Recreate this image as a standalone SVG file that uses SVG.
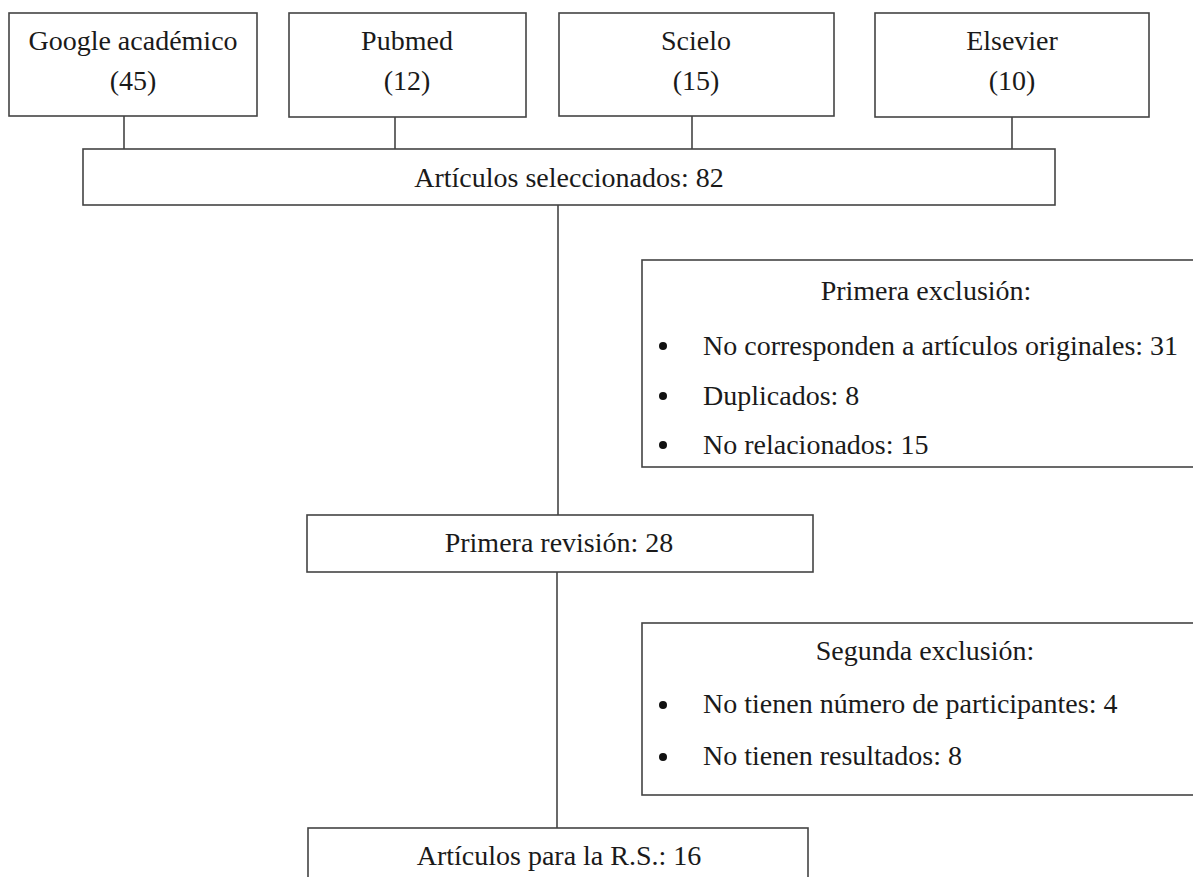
<svg xmlns="http://www.w3.org/2000/svg" width="1193" height="877" viewBox="0 0 1193 877">
<style>
.box{fill:#fff;stroke:#444;stroke-width:1.6}
.ln{stroke:#444;stroke-width:1.6;fill:none}
text{font-family:"Liberation Serif","Times New Roman",serif;font-size:28px;fill:#1a1a1a}
.c{text-anchor:middle}
.dot{fill:#111}
</style>
<rect width="1193" height="877" fill="#fff"/>
<g id="connectors">
<line class="ln" x1="124" y1="116" x2="124" y2="149"/>
<line class="ln" x1="395" y1="117" x2="395" y2="149"/>
<line class="ln" x1="692" y1="116" x2="692" y2="149"/>
<line class="ln" x1="1012" y1="117" x2="1012" y2="149"/>
<line class="ln" x1="558" y1="205" x2="558" y2="515"/>
<line class="ln" x1="557" y1="572" x2="557" y2="828"/>
</g>
<g id="google"><rect class="box" x="9" y="13" width="248" height="103"/><text class="c" x="133" y="50">Google académico</text><text class="c" x="133" y="90">(45)</text></g>
<g id="pubmed"><rect class="box" x="289" y="13" width="237" height="104"/><text class="c" x="407" y="50">Pubmed</text><text class="c" x="407" y="90">(12)</text></g>
<g id="scielo"><rect class="box" x="559" y="13" width="275" height="103"/><text class="c" x="696" y="50">Scielo</text><text class="c" x="696" y="90">(15)</text></g>
<g id="elsevier"><rect class="box" x="875" y="13" width="274" height="104"/><text class="c" x="1012" y="50">Elsevier</text><text class="c" x="1012" y="90">(10)</text></g>
<g id="seleccionados"><rect class="box" x="83" y="149" width="972" height="56"/><text class="c" x="569" y="187">Artículos seleccionados: 82</text></g>
<g id="primera-exclusion"><rect class="box" x="642" y="260" width="570" height="207"/>
<text class="c" x="926" y="300">Primera exclusión:</text>
<circle class="dot" cx="663" cy="346" r="4"/><text x="703" y="355">No corresponden a artículos originales: 31</text>
<circle class="dot" cx="663" cy="396" r="4"/><text x="703" y="405">Duplicados: 8</text>
<circle class="dot" cx="663" cy="445" r="4"/><text x="703" y="454">No relacionados: 15</text>
</g>
<g id="primera-revision"><rect class="box" x="307" y="515" width="506" height="57"/><text class="c" x="559" y="552">Primera revisión: 28</text></g>
<g id="segunda-exclusion"><rect class="box" x="642" y="623" width="570" height="172"/>
<text class="c" x="925" y="660">Segunda exclusión:</text>
<circle class="dot" cx="663" cy="705" r="4"/><text x="703" y="713">No tienen número de participantes: 4</text>
<circle class="dot" cx="663" cy="757" r="4"/><text x="703" y="765">No tienen resultados: 8</text>
</g>
<g id="articulos-rs"><rect class="box" x="308" y="828" width="500" height="80"/><text class="c" x="559" y="865">Artículos para la R.S.: 16</text></g>
</svg>
